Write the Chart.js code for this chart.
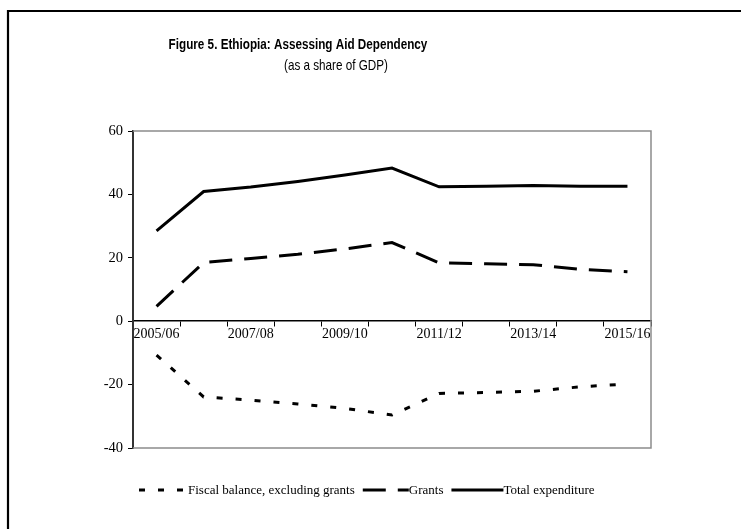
<!DOCTYPE html>
<html>
<head>
<meta charset="utf-8">
<style>
  html, body { margin: 0; padding: 0; background: #fff; }
  #wrap { width: 741px; height: 529px; }
</style>
<script src="https://cdn.jsdelivr.net/npm/chart.js@4.4.1/dist/chart.umd.min.js"></script>
</head>
<body>
<div id="wrap"><canvas id="c" width="741" height="529"></canvas></div>
<script>
// Fiscal years and series (percent of GDP)
const years = ['2005/06', '2006/07', '2007/08', '2008/09', '2009/10', '2010/11',
               '2011/12', '2012/13', '2013/14', '2014/15', '2015/16'];
const fiscalBalanceExGrants = [-10.7, -23.9, -24.9, -26.1, -27.5, -29.6, -22.8, -22.5, -22.1, -20.7, -19.8];
const grants = [4.7, 18.5, 19.8, 21.1, 22.8, 24.8, 18.4, 18.1, 17.8, 16.4, 15.6];
const totalExpenditure = [28.5, 40.9, 42.3, 44.1, 46.1, 48.3, 42.4, 42.6, 42.8, 42.6, 42.6];
const yTicks = [-40, -20, 0, 20, 40, 60];

const titleText = 'Figure 5. Ethiopia: Assessing Aid Dependency';
const subtitleText = '(as a share of GDP)';

const serif = '"Liberation Serif", "Times New Roman", "DejaVu Serif", serif';
const sans = '"Liberation Sans", Arial, Helvetica, sans-serif';

// Draws text horizontally condensed, centred on x
function condensedText(ctx, text, x, y, squeeze) {
  ctx.save();
  ctx.translate(x, y);
  ctx.scale(squeeze, 1);
  ctx.fillText(text, 0, 0);
  ctx.restore();
}

// Page frame, plot frame, titles and line-sample legend
const decorations = {
  id: 'decorations',
  beforeDatasetsDraw(chart) {
    const { ctx, chartArea: a } = chart;
    ctx.save();
    ctx.strokeStyle = '#8c8c8c';
    ctx.lineWidth = 1.5;
    ctx.beginPath();
    ctx.moveTo(a.left, a.top);
    ctx.lineTo(a.right, a.top);
    ctx.lineTo(a.right, a.bottom);
    ctx.lineTo(a.left, a.bottom);
    ctx.stroke();
    ctx.restore();
  },
  afterDraw(chart) {
    const { ctx } = chart;
    ctx.save();
    // outer page border (top and left edges)
    ctx.strokeStyle = '#000';
    ctx.lineWidth = 2.2;
    ctx.beginPath();
    ctx.moveTo(741, 11);
    ctx.lineTo(8, 11);
    ctx.lineTo(8, 529);
    ctx.stroke();

    // titles
    ctx.fillStyle = '#000';
    ctx.textBaseline = 'middle';
    ctx.textAlign = 'center';
    ctx.font = 'bold 15px ' + sans;
    condensedText(ctx, titleText, 298, 45, 0.78);
    ctx.font = '15px ' + sans;
    condensedText(ctx, subtitleText, 336, 66, 0.78);

    // legend: each line sample runs straight into its label
    let x = 139;
    const y = 490;
    ctx.textAlign = 'left';
    ctx.font = '13px ' + serif;
    const items = chart.data.datasets.map((ds, i) => ({ ds, w: [49, 46, 52][i] }));
    items.forEach(({ ds, w }) => {
      ctx.strokeStyle = ds.borderColor;
      ctx.lineWidth = ds.borderWidth;
      ctx.lineCap = 'butt';
      ctx.setLineDash(ds.borderDash || []);
      ctx.beginPath();
      ctx.moveTo(x, y);
      ctx.lineTo(x + w, y);
      ctx.stroke();
      ctx.setLineDash([]);
      x += w;
      ctx.fillStyle = '#000';
      ctx.fillText(ds.label, x, y + 1);
      x += ctx.measureText(ds.label).width + 8;
    });
    ctx.restore();
  }
};

new Chart(document.getElementById('c'), {
  type: 'line',
  data: {
    labels: years,
    datasets: [
      { label: 'Fiscal balance, excluding grants', data: fiscalBalanceExGrants,
        borderColor: '#000', borderWidth: 3, borderDash: [6, 13], pointRadius: 0, tension: 0, fill: false },
      { label: 'Grants', data: grants,
        borderColor: '#000', borderWidth: 3, borderDash: [23, 12], pointRadius: 0, tension: 0, fill: false },
      { label: 'Total expenditure', data: totalExpenditure,
        borderColor: '#000', borderWidth: 3, pointRadius: 0, tension: 0, fill: false }
    ]
  },
  options: {
    responsive: false,
    animation: false,
    devicePixelRatio: 1,
    layout: { padding: { left: 88, right: 90, top: 131, bottom: 81 } },
    plugins: { legend: { display: false }, title: { display: false }, tooltip: { enabled: false } },
    scales: {
      x: {
        type: 'category',
        position: { y: 0 },
        offset: true,
        grid: { offset: true, drawOnChartArea: false, drawTicks: true, tickLength: 5, color: '#000', lineWidth: 1 },
        border: { display: true, color: '#000', width: 1.5 },
        ticks: {
          autoSkip: false, maxRotation: 0, minRotation: 0, padding: 0,
          color: '#000', font: { family: serif, size: 14 },
          callback: function (value, index) { return index % 2 === 0 ? this.getLabelForValue(value) : ''; }
        }
      },
      y: {
        min: -40, max: 60,
        afterFit(scale) { scale.width = 45; },
        afterBuildTicks(scale) { scale.ticks = yTicks.map(v => ({ value: v })); },
        grid: { drawOnChartArea: false, drawTicks: true, tickLength: 5, color: '#000', lineWidth: 1 },
        border: { display: true, color: '#333', width: 2 },
        ticks: { padding: 5, color: '#000', font: { family: serif, size: 14.5 } }
      }
    }
  },
  plugins: [decorations]
});
</script>
</body>
</html>
